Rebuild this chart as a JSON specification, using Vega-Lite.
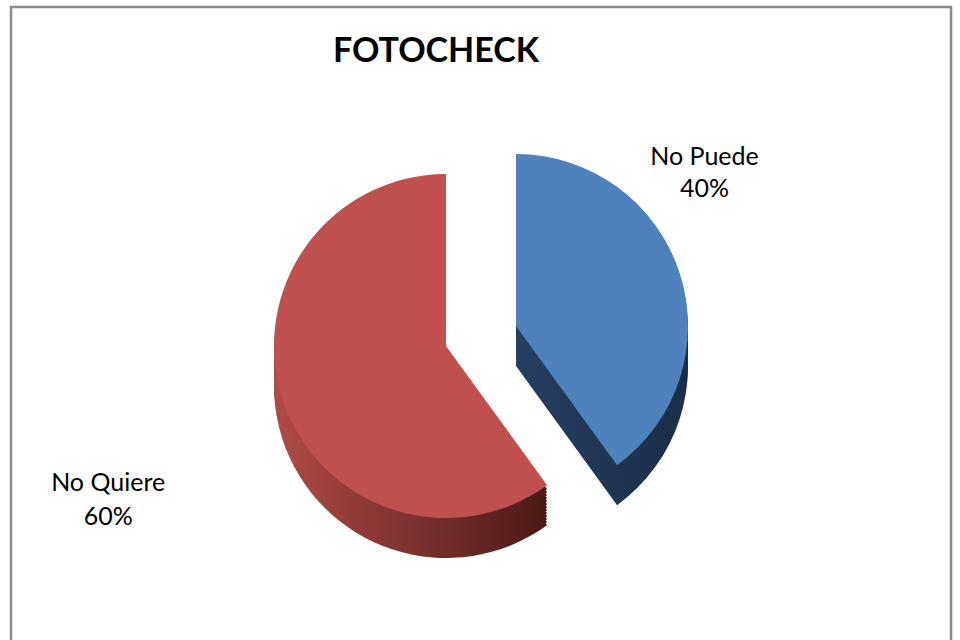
{
  "$schema": "https://vega.github.io/schema/vega-lite/v6.json",
  "width": 960,
  "height": 640,
  "autosize": {"type": "fit", "contains": "padding"},
  "padding": {"left": 11, "top": 7, "right": 9, "bottom": -5},
  "background": "white",
  "view": {"stroke": "#8a8a8a", "strokeWidth": 2.5},
  "title": {
    "text": "FOTOCHECK",
    "font": "Lato",
    "fontSize": 34,
    "fontWeight": "bold",
    "color": "black",
    "anchor": "middle",
    "dx": -45,
    "offset": -89,
    "baseline": "alphabetic"
  },
  "data": {
    "values": [
      {"cat": "No Puede", "value": 0.4, "ord": 1},
      {"cat": "No Quiere", "value": 0.6, "ord": 2}
    ]
  },
  "transform": [
    {"stack": "value", "groupby": [], "sort": [{"field": "ord"}], "as": ["start", "end"]}
  ],
  "encoding": {
    "theta": {"field": "start", "type": "quantitative", "stack": null, "scale": {"domain": [0, 1], "range": [0, 6.283185307]}},
    "theta2": {"field": "end"}
  },
  "layer": [
    {"transform": [{"filter": "datum.cat === 'No Quiere'"}],
     "mark": {"type": "arc", "radius": 172, "xOffset": -35, "yOffset": 60, "color": {"gradient": "linear", "x1": 0, "x2": 1, "y1": 0, "y2": 0, "stops": [{"offset": 0, "color": "#b04b47"}, {"offset": 1, "color": "#4a1917"}]}}},
    {"transform": [{"filter": "datum.cat === 'No Quiere'"}],
     "mark": {"type": "arc", "radius": 172, "xOffset": -35, "yOffset": 57, "color": {"gradient": "linear", "x1": 0, "x2": 1, "y1": 0, "y2": 0, "stops": [{"offset": 0, "color": "#b04b47"}, {"offset": 1, "color": "#4a1917"}]}}},
    {"transform": [{"filter": "datum.cat === 'No Quiere'"}],
     "mark": {"type": "arc", "radius": 172, "xOffset": -35, "yOffset": 54, "color": {"gradient": "linear", "x1": 0, "x2": 1, "y1": 0, "y2": 0, "stops": [{"offset": 0, "color": "#b04b47"}, {"offset": 1, "color": "#4a1917"}]}}},
    {"transform": [{"filter": "datum.cat === 'No Quiere'"}],
     "mark": {"type": "arc", "radius": 172, "xOffset": -35, "yOffset": 51, "color": {"gradient": "linear", "x1": 0, "x2": 1, "y1": 0, "y2": 0, "stops": [{"offset": 0, "color": "#b04b47"}, {"offset": 1, "color": "#4a1917"}]}}},
    {"transform": [{"filter": "datum.cat === 'No Quiere'"}],
     "mark": {"type": "arc", "radius": 172, "xOffset": -35, "yOffset": 48, "color": {"gradient": "linear", "x1": 0, "x2": 1, "y1": 0, "y2": 0, "stops": [{"offset": 0, "color": "#b04b47"}, {"offset": 1, "color": "#4a1917"}]}}},
    {"transform": [{"filter": "datum.cat === 'No Quiere'"}],
     "mark": {"type": "arc", "radius": 172, "xOffset": -35, "yOffset": 45, "color": {"gradient": "linear", "x1": 0, "x2": 1, "y1": 0, "y2": 0, "stops": [{"offset": 0, "color": "#b04b47"}, {"offset": 1, "color": "#4a1917"}]}}},
    {"transform": [{"filter": "datum.cat === 'No Quiere'"}],
     "mark": {"type": "arc", "radius": 172, "xOffset": -35, "yOffset": 42, "color": {"gradient": "linear", "x1": 0, "x2": 1, "y1": 0, "y2": 0, "stops": [{"offset": 0, "color": "#b04b47"}, {"offset": 1, "color": "#4a1917"}]}}},
    {"transform": [{"filter": "datum.cat === 'No Quiere'"}],
     "mark": {"type": "arc", "radius": 172, "xOffset": -35, "yOffset": 39, "color": {"gradient": "linear", "x1": 0, "x2": 1, "y1": 0, "y2": 0, "stops": [{"offset": 0, "color": "#b04b47"}, {"offset": 1, "color": "#4a1917"}]}}},
    {"transform": [{"filter": "datum.cat === 'No Quiere'"}],
     "mark": {"type": "arc", "radius": 172, "xOffset": -35, "yOffset": 36, "color": {"gradient": "linear", "x1": 0, "x2": 1, "y1": 0, "y2": 0, "stops": [{"offset": 0, "color": "#b04b47"}, {"offset": 1, "color": "#4a1917"}]}}},
    {"transform": [{"filter": "datum.cat === 'No Quiere'"}],
     "mark": {"type": "arc", "radius": 172, "xOffset": -35, "yOffset": 33, "color": {"gradient": "linear", "x1": 0, "x2": 1, "y1": 0, "y2": 0, "stops": [{"offset": 0, "color": "#b04b47"}, {"offset": 1, "color": "#4a1917"}]}}},
    {"transform": [{"filter": "datum.cat === 'No Quiere'"}],
     "mark": {"type": "arc", "radius": 172, "xOffset": -35, "yOffset": 30, "color": {"gradient": "linear", "x1": 0, "x2": 1, "y1": 0, "y2": 0, "stops": [{"offset": 0, "color": "#b04b47"}, {"offset": 1, "color": "#4a1917"}]}}},
    {"transform": [{"filter": "datum.cat === 'No Quiere'"}],
     "mark": {"type": "arc", "radius": 172, "xOffset": -35, "yOffset": 27, "color": {"gradient": "linear", "x1": 0, "x2": 1, "y1": 0, "y2": 0, "stops": [{"offset": 0, "color": "#b04b47"}, {"offset": 1, "color": "#4a1917"}]}}},
    {"transform": [{"filter": "datum.cat === 'No Quiere'"}],
     "mark": {"type": "arc", "radius": 172, "xOffset": -35, "yOffset": 24, "color": {"gradient": "linear", "x1": 0, "x2": 1, "y1": 0, "y2": 0, "stops": [{"offset": 0, "color": "#b04b47"}, {"offset": 1, "color": "#4a1917"}]}}},
    {"transform": [{"filter": "datum.cat === 'No Quiere'"}],
     "mark": {"type": "arc", "radius": 172, "xOffset": -35, "yOffset": 20, "color": "#c0504d"}},
    {"transform": [{"filter": "datum.cat === 'No Puede'"}],
     "mark": {"type": "arc", "radius": 172, "xOffset": 35, "yOffset": 40, "color": {"gradient": "linear", "x1": 0, "x2": 1, "y1": 0, "y2": 0, "stops": [{"offset": 0, "color": "#253f63"}, {"offset": 1, "color": "#1b2e48"}]}}},
    {"transform": [{"filter": "datum.cat === 'No Puede'"}],
     "mark": {"type": "arc", "radius": 172, "xOffset": 35, "yOffset": 36, "color": {"gradient": "linear", "x1": 0, "x2": 1, "y1": 0, "y2": 0, "stops": [{"offset": 0, "color": "#253f63"}, {"offset": 1, "color": "#1b2e48"}]}}},
    {"transform": [{"filter": "datum.cat === 'No Puede'"}],
     "mark": {"type": "arc", "radius": 172, "xOffset": 35, "yOffset": 32, "color": {"gradient": "linear", "x1": 0, "x2": 1, "y1": 0, "y2": 0, "stops": [{"offset": 0, "color": "#253f63"}, {"offset": 1, "color": "#1b2e48"}]}}},
    {"transform": [{"filter": "datum.cat === 'No Puede'"}],
     "mark": {"type": "arc", "radius": 172, "xOffset": 35, "yOffset": 28, "color": {"gradient": "linear", "x1": 0, "x2": 1, "y1": 0, "y2": 0, "stops": [{"offset": 0, "color": "#253f63"}, {"offset": 1, "color": "#1b2e48"}]}}},
    {"transform": [{"filter": "datum.cat === 'No Puede'"}],
     "mark": {"type": "arc", "radius": 172, "xOffset": 35, "yOffset": 24, "color": {"gradient": "linear", "x1": 0, "x2": 1, "y1": 0, "y2": 0, "stops": [{"offset": 0, "color": "#253f63"}, {"offset": 1, "color": "#1b2e48"}]}}},
    {"transform": [{"filter": "datum.cat === 'No Puede'"}],
     "mark": {"type": "arc", "radius": 172, "xOffset": 35, "yOffset": 20, "color": {"gradient": "linear", "x1": 0, "x2": 1, "y1": 0, "y2": 0, "stops": [{"offset": 0, "color": "#253f63"}, {"offset": 1, "color": "#1b2e48"}]}}},
    {"transform": [{"filter": "datum.cat === 'No Puede'"}],
     "mark": {"type": "arc", "radius": 172, "xOffset": 35, "yOffset": 16, "color": {"gradient": "linear", "x1": 0, "x2": 1, "y1": 0, "y2": 0, "stops": [{"offset": 0, "color": "#253f63"}, {"offset": 1, "color": "#1b2e48"}]}}},
    {"transform": [{"filter": "datum.cat === 'No Puede'"}],
     "mark": {"type": "arc", "radius": 172, "xOffset": 35, "yOffset": 12, "color": {"gradient": "linear", "x1": 0, "x2": 1, "y1": 0, "y2": 0, "stops": [{"offset": 0, "color": "#253f63"}, {"offset": 1, "color": "#1b2e48"}]}}},
    {"transform": [{"filter": "datum.cat === 'No Puede'"}],
     "mark": {"type": "arc", "radius": 172, "xOffset": 35, "yOffset": 8, "color": {"gradient": "linear", "x1": 0, "x2": 1, "y1": 0, "y2": 0, "stops": [{"offset": 0, "color": "#253f63"}, {"offset": 1, "color": "#1b2e48"}]}}},
    {"transform": [{"filter": "datum.cat === 'No Puede'"}],
     "mark": {"type": "arc", "radius": 172, "xOffset": 35, "yOffset": 4, "color": {"gradient": "linear", "x1": 0, "x2": 1, "y1": 0, "y2": 0, "stops": [{"offset": 0, "color": "#253f63"}, {"offset": 1, "color": "#1b2e48"}]}}},
    {"transform": [{"filter": "datum.cat === 'No Puede'"}],
     "mark": {"type": "arc", "radius": 172, "xOffset": 35, "yOffset": 0, "color": "#4f81bd"}},
    {"transform": [
       {"fold": ["start", "end"], "as": ["edge", "pos"]},
       {"aggregate": [{"op": "mean", "field": "pos", "as": "mid"}], "groupby": ["cat", "value"]},
       {"filter": "datum.cat === 'No Puede'"}
     ],
     "layer": [
       {"mark": {"type": "text", "radius": 235, "yOffset": -80, "dy": -16, "baseline": "middle", "font": "Lato", "fontSize": 25, "color": "black"},
        "encoding": {"theta": {"field": "mid", "type": "quantitative", "stack": null}, "theta2": null, "text": {"field": "cat"}}},
       {"mark": {"type": "text", "radius": 235, "yOffset": -80, "dy": 16, "baseline": "middle", "font": "Lato", "fontSize": 25, "color": "black"},
        "encoding": {"theta": {"field": "mid", "type": "quantitative", "stack": null}, "theta2": null, "text": {"field": "value", "type": "quantitative", "format": ".0%"}}}
     ]},
    {"transform": [
       {"fold": ["start", "end"], "as": ["edge", "pos"]},
       {"aggregate": [{"op": "mean", "field": "pos", "as": "mid"}], "groupby": ["cat", "value"]},
       {"filter": "datum.cat === 'No Quiere'"}
     ],
     "layer": [
       {"mark": {"type": "text", "radius": 392, "yOffset": 53, "dy": -17, "baseline": "middle", "font": "Lato", "fontSize": 25, "color": "black"},
        "encoding": {"theta": {"field": "mid", "type": "quantitative", "stack": null}, "theta2": null, "text": {"field": "cat"}}},
       {"mark": {"type": "text", "radius": 392, "yOffset": 53, "dy": 17, "baseline": "middle", "font": "Lato", "fontSize": 25, "color": "black"},
        "encoding": {"theta": {"field": "mid", "type": "quantitative", "stack": null}, "theta2": null, "text": {"field": "value", "type": "quantitative", "format": ".0%"}}}
     ]}
  ]
}
